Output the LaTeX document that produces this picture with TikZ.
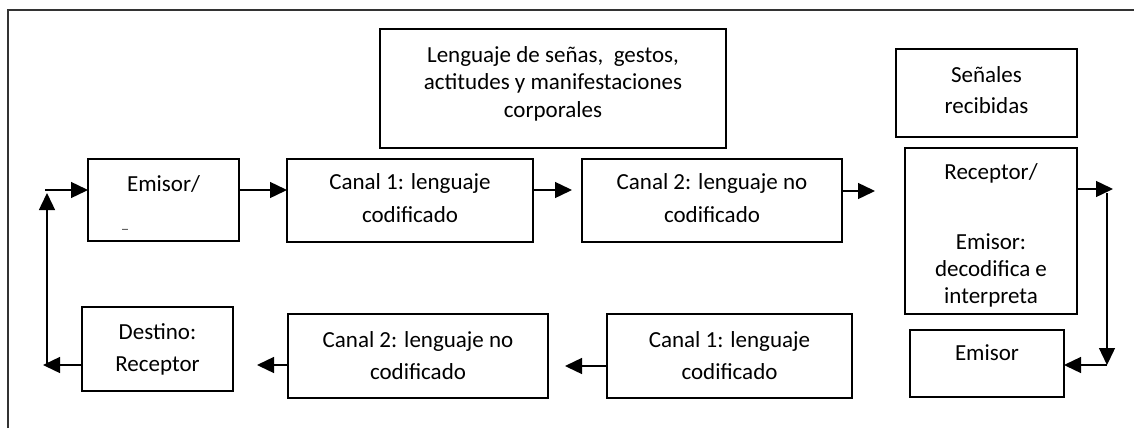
\documentclass[tikz,border=0pt]{standalone}
\usepackage{fontspec}
\setmainfont{Carlito}
\usetikzlibrary{arrows.meta}
\begin{document}
\begin{tikzpicture}[x=0.5pt,y=-0.5pt,
 box/.style={draw,line width=0.7pt,inner sep=0pt,outer sep=0pt},
 txt/.style={align=center,inner sep=0pt,font=\fontsize{11.5}{16.5}\selectfont},
 arr/.style={line width=0.7pt,-{Triangle[length=8.5pt,width=8pt]}}]
\useasboundingbox (0,0) rectangle (1134,428);
\coordinate (fbl) at (8,428);
\coordinate (ftl) at (8,10);
\coordinate (ftr) at (1134,10);
\draw[line width=0.6pt,black!80] (fbl) -- (ftl) -- (ftr);
% boxes
\node[box,minimum width=173pt,minimum height=59.5pt] (lang) at (553,88.5) {};
\node[box,minimum width=90.5pt,minimum height=44pt] (sen) at (986.5,93) {};
\node[box,minimum width=75.5pt,minimum height=41pt] (e1) at (163.5,200) {};
\node[box,minimum width=123pt,minimum height=41.5pt] (c1) at (410,200.5) {};
\node[box,minimum width=130pt,minimum height=41.5pt] (c2) at (712,200.5) {};
\node[box,minimum width=86pt,minimum height=83pt] (rec) at (991,231) {};
\node[box,minimum width=77pt,minimum height=33.5pt] (em2) at (987,363.5) {};
\node[box,minimum width=122.5pt,minimum height=42pt] (c1b) at (729.5,356) {};
\node[box,minimum width=130pt,minimum height=42pt] (c2b) at (418,356) {};
\node[box,minimum width=75.5pt,minimum height=42pt] (dest) at (157.5,349) {};
% texts
\node[txt,font=\fontsize{11.5}{13.75}\selectfont] (tlang) at (553,83.5) {Lenguaje de señas,\ \ gestos,\\actitudes y manifestaciones\\corporales};
\node[txt,font=\fontsize{11.5}{15.5}\selectfont] (tsen) at (986.5,90.5) {Señales\\recibidas};
\node[txt] (te1) at (163.5,184) {Emisor/};
\node[txt,font=\fontsize{6}{7}\selectfont] (tund) at (125,229) {\_};
\node[txt] (tc1) at (410,198.5) {Canal 1: lenguaje\\codificado};
\node[txt] (tc2) at (712,198.5) {Canal 2: lenguaje no\\codificado};
\node[txt] (trec1) at (991,173) {Receptor/};
\node[txt,font=\fontsize{11.5}{13.5}\selectfont] (trec2) at (991,270) {Emisor:\\decodifica e\\interpreta};
\node[txt] (tem2) at (987,353) {Emisor};
\node[txt,font=\fontsize{11.5}{16}\selectfont] (tc1b) at (729.5,356) {Canal 1: lenguaje\\codificado};
\node[txt,font=\fontsize{11.5}{16}\selectfont] (tc2b) at (418,356) {Canal 2: lenguaje no\\codificado};
\node[txt,font=\fontsize{11.5}{16}\selectfont] (tdest) at (157.5,349) {Destino:\\Receptor};
% connectors
\coordinate (yt) at (0,190);
\coordinate (lin) at (45,190);
\draw[arr] (lin) -- (e1.west |- lin);
\draw[arr] (e1.east |- yt) -- (c1.west |- yt);
\coordinate (c2gap) at (572,190);
\draw[arr] (c1.east |- yt) -- (c2gap);
\coordinate (recgap) at (875,191);
\draw[arr] (c2.east |- recgap) -- (recgap);
\coordinate (rout) at (1113,189);
\draw[arr] (rec.east |- rout) -- (rout);
\coordinate (rtop) at (1107,193);
\coordinate (rbot) at (1107,365);
\draw[arr] (rtop) -- (rbot);
\draw[arr] (rbot) -- (em2.east |- rbot);
\coordinate (bgap1) at (565,366);
\draw[arr] (c1b.west |- bgap1) -- (bgap1);
\coordinate (bgap2) at (257,365);
\draw[arr] (c2b.west |- bgap2) -- (bgap2);
\coordinate (lbot) at (43,365);
\draw[arr] (dest.west |- lbot) -- (lbot);
\coordinate (lv) at (47,365);
\coordinate (lvt) at (47,193);
\draw[arr] (lv) -- (lvt);
\end{tikzpicture}
\end{document}
